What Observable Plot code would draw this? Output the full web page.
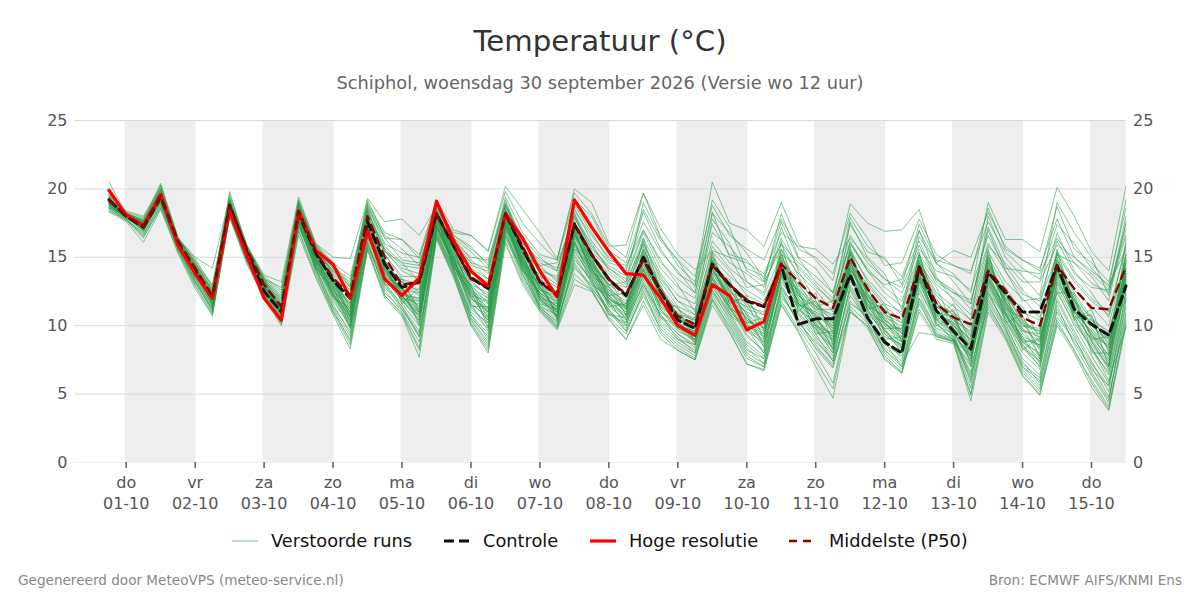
<!DOCTYPE html>
<html lang="nl"><head><meta charset="utf-8">
<script src="https://cdn.jsdelivr.net/npm/d3@7"></script>
<script src="https://cdn.jsdelivr.net/npm/@observablehq/plot@0.6"></script>
<style>
html,body{margin:0;padding:0;background:#fff;font-family:"DejaVu Sans",sans-serif;width:1200px;height:600px;overflow:hidden}
#title{position:absolute;left:0;width:1200px;top:24px;text-align:center;font-size:29.2px;color:#333;line-height:34px}
#subtitle{position:absolute;left:0;width:1200px;top:73px;text-align:center;font-size:17.8px;color:#666;line-height:20px}
#chart{position:absolute;left:0;top:100px}
#legend{position:absolute;left:232px;top:530px;height:22px;font-size:17.8px;color:#111;white-space:nowrap}
#legend span{position:absolute;top:0;line-height:22px}
#legend svg{position:absolute;top:0}
#foot-l{position:absolute;left:18px;top:572px;font-size:13.6px;color:#888}
#foot-r{position:absolute;right:18px;top:572px;font-size:13.6px;color:#888}
</style></head><body>
<div id="title">Temperatuur (°C)</div>
<div id="subtitle">Schiphol, woensdag 30 september 2026 (Versie wo 12 uur)</div>
<div id="chart"></div>
<div id="legend"></div>
<div id="foot-l">Gegenereerd door MeteoVPS (meteo-service.nl)</div>
<div id="foot-r">Bron: ECMWF AIFS/KNMI Ens</div>
<script>
const dayNames=["do","vr","za","zo","ma","di","wo","do","vr","za","zo","ma","di","wo","do"];
const dateNames=["01-10","02-10","03-10","04-10","05-10","06-10","07-10","08-10","09-10","10-10","11-10","12-10","13-10","14-10","15-10"];
const shadedDayIndex=[0,2,4,6,8,10,12,14];
const yTicks=[5,10,15,20,25];
const yLabels=[0,5,10,15,20,25];
const hres=[19.9,18.1,17.3,19.6,15.9,13.8,12.0,18.4,15.1,12.0,10.4,18.4,15.5,14.5,12.0,16.9,13.4,12.2,13.5,19.1,16.2,14.0,12.9,18.2,16.4,14.0,12.1,19.2,17.2,15.4,13.8,13.7,12.0,10.0,9.3,13.0,12.2,9.7,10.3,14.5];
const control=[19.2,18.0,17.2,19.4,16.0,14.0,12.0,18.8,15.4,12.5,11.0,18.2,15.3,13.3,12.0,17.6,14.5,12.8,13.2,18.2,15.8,13.5,12.7,18.2,15.6,13.2,12.3,17.4,15.2,13.4,12.2,15.0,12.5,10.4,9.8,14.5,13.0,11.8,11.4,14.4,10.1,10.5,10.5,13.7,10.6,8.8,8.0,14.3,11.1,9.6,8.3,13.9,12.4,11.0,11.0,14.4,11.2,10.1,9.3,12.9];
const p50=[19.2,18.0,17.3,19.5,16.2,14.2,12.2,18.8,15.6,13.0,11.4,18.4,15.4,13.5,12.2,18.0,15.0,13.0,13.2,18.2,15.8,13.4,12.8,18.2,15.8,13.2,12.2,17.5,15.2,13.4,12.3,14.8,12.5,10.7,10.1,14.4,13.0,11.9,11.4,14.5,13.2,12.0,11.3,15.0,12.7,11.0,10.5,14.3,11.6,10.6,10.1,14.0,12.6,10.6,10.0,14.4,12.7,11.3,11.2,14.3];
const m01=[20.5,18.2,17.8,20.4,16.5,14.6,12.9,19.0,15.9,13.4,12.1,19.0,15.9,14.5,13.0,19.3,17.6,17.8,16.6,18.7,16.8,16.6,15.5,20.2,18.5,16.8,14.9,19.7,18.2,15.8,15.9,19.7,17.1,15.2,14.1,15.5,15.0,14.6,13.8,16.8,15.8,15.6,14.5,16.4,14.9,13.4,12.8,15.9,13.2,12.4,11.9,16.0,14.0,12.3,11.8,15.2,14.6,13.1,12.4,16.6];
const m02=[18.3,17.6,16.1,18.5,15.3,12.7,10.7,17.9,14.5,12.0,10.0,16.6,13.5,10.8,8.3,15.5,12.0,10.7,7.7,16.3,13.5,10.0,8.0,16.0,13.0,11.0,9.7,13.0,12.5,10.5,9.0,11.5,9.0,8.2,7.5,11.5,9.5,7.2,6.7,11.5,9.5,7.0,4.7,11.0,10.0,7.5,6.5,11.0,9.0,8.7,4.5,11.0,9.0,6.3,4.9,10.0,8.0,5.5,3.8,10.0];
const m03=[19.0,18.4,18.0,20.2,16.4,15.0,14.2,19.4,15.8,13.7,13.2,19.4,16.0,15.0,14.9,19.2,16.4,16.3,15.2,19.2,17.0,16.6,15.4,19.8,17.5,16.0,14.8,20.0,19.0,16.0,15.0,19.7,16.5,14.4,13.2,20.5,17.5,17.0,15.8,19.0,16.0,14.8,13.3,18.9,17.5,16.9,17.0,18.5,14.5,13.8,12.4,19.0,16.3,16.3,15.4,20.1,18.0,15.4,14.0,20.2];
const m04=[18.6,17.8,16.6,18.9,15.6,13.2,11.1,18.1,14.8,12.2,10.4,17.2,14.2,11.6,9.4,16.1,12.6,11.0,8.8,16.8,14.0,10.6,9.2,17.0,13.8,11.2,10.0,15.0,13.2,10.8,10.2,13.0,10.4,9.2,8.0,12.4,10.6,8.4,7.2,12.8,10.4,8.3,6.9,12.2,10.4,8.8,7.0,12.4,9.6,9.0,5.4,12.0,9.8,7.0,6.0,11.5,8.6,6.4,4.4,11.8];
const m05=[19.6,18.2,17.5,19.9,16.3,14.5,12.6,19.2,15.8,13.3,11.9,18.9,15.5,14.0,13.2,18.9,16.0,15.3,15.0,18.8,16.2,15.0,14.8,18.9,16.4,15.0,14.0,18.6,16.2,14.6,14.2,17.6,15.4,14.0,12.4,18.2,16.8,15.3,13.4,17.6,14.9,13.2,12.0,17.9,15.8,14.8,13.6,16.9,14.6,15.5,15.0,18.3,15.8,14.8,14.2,17.8,15.0,13.8,12.6,17.4];
const m06=[18.8,18.0,16.9,19.2,15.9,13.6,11.5,18.4,15.1,12.6,10.8,17.8,14.6,12.2,10.2,16.8,13.4,11.8,10.4,17.2,14.6,11.2,10.2,17.4,14.4,12.0,10.8,16.0,14.0,11.8,10.8,13.8,11.2,9.8,8.8,13.2,11.4,9.2,8.2,13.4,11.2,9.8,8.0,13.6,11.0,9.4,8.2,13.2,10.2,9.0,6.6,12.8,10.4,8.0,6.8,12.6,10.0,7.8,5.8,13.4];
const m07=[19.3,18.1,17.6,19.7,16.1,14.2,12.4,18.9,15.6,13.2,11.8,18.6,15.7,13.8,12.6,18.3,15.6,14.4,14.2,18.5,16.4,14.8,13.8,18.6,15.2,14.4,14.6,17.8,16.0,14.0,13.0,16.4,13.8,12.2,11.6,16.2,14.6,13.8,12.8,16.4,14.2,12.8,11.8,16.0,14.2,12.8,11.8,15.2,13.4,12.6,11.2,15.8,14.6,13.2,13.2,15.9,15.0,14.0,13.0,15.6];
const m08=[18.9,17.9,17.1,19.3,15.7,13.4,11.2,18.2,15.0,12.4,10.6,17.5,14.0,11.0,9.0,15.8,12.8,11.4,9.6,16.6,13.8,10.4,8.6,16.4,14.0,11.6,10.4,14.6,12.8,11.0,9.6,12.2,9.8,8.6,7.8,11.9,10.0,7.8,7.0,12.0,10.6,9.0,7.4,11.6,10.8,8.0,6.8,11.8,9.2,8.9,7.0,11.4,9.4,6.8,5.4,10.6,9.0,7.0,4.8,10.8];
const m09=[19.4,18.0,17.4,19.6,16.2,14.4,12.2,18.7,15.4,12.8,11.2,18.2,15.2,13.2,11.4,17.2,14.0,12.0,11.2,17.6,15.0,12.4,11.6,17.8,15.0,12.4,11.4,16.8,14.4,12.4,11.4,14.4,12.4,10.6,9.8,14.0,12.4,10.4,9.8,14.2,12.4,10.4,9.2,14.4,12.0,10.4,9.6,13.8,11.0,10.0,8.4,13.4,11.2,9.2,8.6,13.8,11.6,9.2,7.6,14.8];
const m10=[19.1,18.2,17.7,19.8,16.3,14.8,13.0,19.1,15.7,13.4,12.2,18.7,15.8,14.2,12.9,18.6,16.4,14.8,14.6,18.4,16.0,14.4,14.0,18.9,15.8,14.0,13.6,18.0,15.6,14.4,13.6,17.0,14.6,13.4,12.4,17.4,15.2,14.8,13.2,15.6,13.8,12.6,11.0,15.4,13.4,12.0,10.8,16.5,14.6,13.2,11.6,17.2,14.4,12.6,11.4,16.8,14.0,12.4,10.6,16.0];
const m11=[18.5,17.7,16.4,18.7,15.5,13.0,10.9,18.0,14.7,12.2,10.2,17.0,13.8,11.2,8.8,15.7,12.2,10.9,8.4,16.5,13.6,10.2,8.4,16.6,13.4,11.2,9.9,13.8,12.6,10.6,9.4,12.6,9.6,8.4,7.6,12.0,9.8,7.6,7.0,11.8,9.8,8.0,5.8,11.4,10.2,7.8,6.6,11.6,9.4,8.8,5.0,11.6,9.2,6.6,5.2,10.4,8.2,6.0,4.1,10.4];
const m12=[19.5,18.3,17.9,20.0,16.4,14.9,12.8,19.6,15.9,13.6,12.6,19.2,16.0,14.6,13.6,19.0,16.8,16.3,14.9,19.0,16.6,15.6,14.6,19.4,16.8,15.2,14.8,19.2,18.0,15.5,14.6,18.5,16.2,14.8,13.6,18.8,16.6,15.6,14.8,17.8,15.6,15.0,13.8,18.2,16.4,14.4,14.6,17.8,15.2,14.4,13.8,18.6,15.6,14.8,14.0,18.7,15.6,14.6,13.2,18.6];
const m13=[18.7,17.9,17.0,19.1,15.8,13.5,11.4,18.3,15.2,12.5,10.7,17.6,14.4,12.0,9.8,16.4,13.0,11.6,10.0,17.0,14.2,11.0,9.8,17.2,14.2,11.8,10.6,15.4,13.6,11.4,10.4,13.4,10.8,9.4,8.4,12.8,11.0,8.8,7.8,12.8,11.0,9.4,7.4,13.0,10.6,9.0,7.6,12.8,10.0,9.4,6.0,12.4,10.0,7.6,6.4,12.0,9.6,7.4,5.2,12.6];
const m14=[19.2,18.0,17.2,19.5,16.0,14.0,12.0,18.5,15.3,12.7,11.0,18.0,15.0,12.8,10.8,17.0,13.8,11.9,11.0,17.4,14.8,12.0,11.0,17.6,14.8,12.2,11.0,16.4,14.2,12.2,11.0,14.2,12.0,10.2,9.2,13.8,12.0,10.0,9.4,13.8,12.0,10.2,8.8,14.2,11.8,10.2,9.0,13.6,11.2,9.8,8.0,13.2,11.0,8.8,8.0,13.2,11.2,8.8,7.0,14.4];
const m15=[19.0,18.1,17.5,19.6,16.1,14.3,12.3,18.8,15.5,13.1,11.5,18.4,15.6,13.7,12.4,18.2,15.2,13.6,13.6,18.0,15.6,13.8,13.2,18.3,15.4,13.6,12.8,17.6,15.0,13.2,12.8,15.6,13.2,11.4,10.8,15.0,13.6,12.6,11.8,14.8,13.4,11.6,10.6,14.8,13.0,11.4,10.4,14.6,12.2,11.0,9.8,14.6,12.4,10.2,9.6,14.8,12.6,11.4,10.0,15.2];
const m16=[19.8,18.2,17.6,20.1,16.4,14.6,12.7,19.3,15.8,13.5,12.4,19.0,15.8,14.4,12.8,18.8,16.6,15.6,14.4,18.6,16.4,15.4,14.2,19.2,16.0,14.8,14.2,18.4,16.6,15.0,14.0,18.3,15.6,13.8,13.0,19.2,17.2,14.0,13.2,18.2,15.0,14.2,12.4,17.4,15.4,15.0,13.0,17.4,14.8,14.4,14.0,17.6,15.4,14.2,13.4,17.4,16.0,14.2,12.8,19.2];
const m17=[18.4,17.7,16.8,19.0,15.6,13.3,11.0,18.0,14.8,12.3,10.3,17.4,14.2,11.4,9.6,16.2,12.4,11.2,9.2,16.7,14.2,10.8,9.4,16.8,13.6,11.4,10.2,14.2,13.0,11.2,9.8,12.8,10.2,9.0,8.2,12.6,10.4,8.2,7.6,12.4,10.2,8.8,7.6,12.6,10.2,8.4,7.4,12.0,9.8,9.2,5.8,12.2,10.2,7.4,5.8,11.0,8.8,6.8,5.6,11.4];
const m18=[19.3,18.1,17.3,19.4,16.2,14.1,12.1,18.6,15.4,12.9,11.1,18.3,15.3,13.0,11.0,17.4,14.2,12.4,11.8,17.8,15.2,12.8,12.0,17.9,15.2,12.6,11.6,16.6,14.6,12.6,11.8,14.6,12.2,10.8,10.0,14.2,12.2,11.0,10.4,13.6,11.6,10.8,9.8,13.8,11.4,9.8,9.8,13.4,10.8,10.2,9.0,13.6,11.4,9.6,9.2,13.4,11.0,9.6,8.4,13.8];
const m19=[18.9,18.0,17.0,19.3,15.8,13.7,11.8,18.5,15.2,12.7,10.9,17.9,14.8,12.4,10.4,16.6,13.6,12.2,10.8,17.3,14.4,11.6,10.6,17.5,14.6,12.0,10.6,15.8,13.8,11.6,10.6,13.6,11.6,10.0,9.0,13.4,11.6,9.6,8.8,13.2,11.4,9.6,8.4,13.4,11.2,9.6,8.4,13.0,10.6,9.6,7.4,13.0,10.6,8.4,7.4,12.8,10.4,8.4,6.4,12.2];
const m20=[19.4,18.2,17.7,19.9,16.3,14.7,12.5,19.0,15.7,13.3,11.7,18.8,15.9,14.2,12.2,18.7,15.8,14.6,14.4,18.3,15.9,14.6,14.2,18.8,16.2,14.4,13.2,18.2,15.8,14.2,13.4,16.8,14.2,12.8,12.0,16.8,15.8,14.2,13.6,16.0,14.6,13.6,12.4,16.6,14.6,13.4,12.4,15.6,14.0,13.6,12.6,16.6,14.2,14.0,13.8,16.4,14.6,13.6,11.8,17.6];
const m21=[18.6,17.8,16.7,18.8,15.7,13.1,11.3,18.1,15.0,12.4,10.5,17.3,14.5,11.8,10.0,16.0,13.2,11.4,9.2,16.9,14.0,10.8,9.0,16.9,13.8,11.4,10.0,14.8,13.4,11.0,10.0,13.2,10.6,9.4,8.6,12.6,10.8,8.6,7.6,13.0,10.8,9.2,7.8,12.8,10.4,8.6,7.8,12.6,10.4,9.2,6.4,12.6,9.8,7.2,6.2,11.8,9.4,7.2,5.6,12.0];
const m22=[19.1,18.0,17.4,19.4,16.0,14.1,11.9,18.7,15.5,13.0,11.3,18.1,15.1,13.1,11.7,17.8,14.8,13.0,12.6,18.0,15.5,13.0,12.4,18.0,15.6,13.0,12.0,17.2,14.8,13.0,12.0,15.2,12.8,11.2,10.4,14.6,13.2,11.4,11.0,15.0,13.0,11.4,10.8,14.6,12.4,10.8,10.2,14.0,11.8,10.8,9.4,14.2,12.0,10.0,9.8,14.0,12.2,10.4,9.6,14.0];
const m23=[19.7,18.3,17.5,20.3,16.2,14.4,12.5,19.8,15.6,13.4,12.8,19.1,15.6,14.2,13.4,18.5,15.5,14.0,13.4,18.9,16.6,15.8,14.4,19.0,15.6,13.9,13.0,18.8,16.8,14.8,14.4,17.0,14.8,13.0,11.0,17.8,16.0,13.2,12.4,17.2,14.0,11.8,10.2,17.6,15.0,13.8,11.2,17.0,13.6,11.8,10.4,18.0,15.0,13.6,12.2,19.0,16.8,15.0,12.2,18.0];
const m24=[18.8,17.9,16.9,19.2,15.9,13.8,11.6,18.4,15.3,12.6,11.0,17.7,14.7,12.6,10.6,16.6,14.4,12.4,12.0,17.2,14.6,11.4,10.0,17.2,14.8,11.9,11.2,15.6,13.4,10.8,10.6,13.0,10.8,9.0,8.6,13.0,11.4,9.4,8.0,12.6,10.0,8.4,7.2,11.0,10.0,8.2,7.2,9.5,9.3,8.9,7.8,12.4,10.8,8.6,7.0,12.4,10.2,8.4,6.0,9.9];
const m25=[19.2,18.1,17.6,19.5,16.2,14.3,12.3,18.9,15.6,13.1,11.6,18.5,15.4,13.6,12.0,18.1,15.2,13.4,13.0,18.4,15.7,13.6,13.0,18.4,16.0,13.4,12.4,17.5,14.6,13.0,13.2,16.0,13.4,11.8,11.2,15.4,14.0,12.2,11.6,14.2,13.0,11.2,11.2,15.6,13.2,11.6,11.0,14.8,12.4,11.4,10.4,15.0,12.8,11.0,10.4,15.2,13.2,11.8,10.8,14.6];
const m26=[18.4,17.8,16.5,18.6,15.4,12.9,10.8,18.0,14.6,12.1,10.1,16.9,13.6,11.0,8.6,15.6,12.2,10.8,8.2,16.4,13.7,10.1,8.2,16.2,13.2,11.1,9.8,13.4,12.6,10.4,9.0,11.8,9.4,8.2,7.5,11.8,9.6,7.2,6.8,11.6,9.6,7.4,5.4,11.2,9.8,7.6,6.6,11.2,9.2,8.8,4.9,11.2,9.2,6.4,5.0,10.2,8.2,5.8,3.9,10.2];
const m27=[19.0,18.1,17.2,19.5,16.1,14.0,12.2,18.6,15.4,12.8,11.3,18.2,15.2,13.4,11.2,17.6,14.6,13.2,12.2,17.8,15.4,12.6,11.8,17.8,15.4,12.8,11.8,17.0,14.8,12.8,11.6,15.4,12.8,10.8,10.4,14.8,12.6,11.2,10.8,14.6,12.8,11.0,10.2,15.2,12.2,10.6,10.0,14.2,11.4,10.6,9.2,14.4,12.2,10.4,9.4,14.6,12.0,10.0,9.0,13.2];
const m28=[19.6,18.2,17.7,20.0,16.4,14.5,12.6,19.2,15.7,13.3,12.0,18.9,15.6,14.0,12.8,18.4,15.4,14.2,13.8,18.6,16.2,14.6,13.4,18.7,16.2,14.6,14.0,18.2,15.4,14.2,13.2,19.0,16.4,14.8,12.8,18.3,15.0,12.8,13.0,16.0,13.6,11.4,11.8,16.2,14.0,13.0,13.4,16.2,13.4,12.4,11.6,17.0,14.0,11.8,12.0,16.2,13.8,12.8,12.6,17.0];
const m29=[18.6,17.9,17.0,19.1,15.7,13.4,11.2,18.2,15.1,12.3,10.6,17.5,14.1,11.3,9.2,15.9,13.0,11.2,9.4,16.6,13.9,10.5,8.8,16.6,14.2,11.3,10.3,14.4,12.7,11.2,9.6,12.4,10.0,8.8,8.0,12.2,10.2,8.0,7.2,12.2,10.4,8.6,7.0,11.8,10.6,8.2,7.0,12.0,9.4,9.0,6.2,11.8,9.6,7.0,5.6,11.2,9.2,6.6,4.6,11.0];
const m30=[19.3,18.0,17.3,19.7,16.0,14.2,12.0,18.7,15.5,13.0,11.2,18.3,15.4,13.2,11.6,17.9,14.4,12.6,12.4,18.1,15.3,13.2,12.2,18.1,15.5,13.0,11.6,17.3,15.0,13.4,12.2,14.8,12.6,10.4,10.0,14.4,12.8,11.6,10.8,14.0,12.2,11.2,10.0,14.6,12.6,11.2,10.2,13.8,11.4,10.4,9.6,14.0,11.8,9.8,8.8,14.2,11.8,10.0,8.8,14.0];
const m31=[18.8,18.0,17.1,19.3,15.9,13.9,11.7,18.5,15.3,12.8,10.9,17.8,14.9,12.4,10.0,16.9,14.2,12.2,10.6,17.4,14.8,11.8,10.4,17.7,14.6,12.2,11.2,16.2,14.0,12.0,11.2,14.0,11.8,10.2,9.4,13.6,11.8,10.6,9.2,13.8,11.8,10.0,8.6,13.8,11.6,10.0,8.8,13.4,10.8,9.4,7.8,13.0,10.8,8.8,7.6,13.6,10.8,9.0,7.2,13.0];
const m32=[19.5,18.1,17.6,19.8,16.3,14.4,12.4,19.0,15.7,13.2,11.6,18.6,15.6,13.9,12.6,18.4,15.4,14.6,13.2,18.3,16.0,14.2,13.4,18.5,16.2,14.2,13.4,18.0,15.2,13.8,12.8,16.0,13.6,11.8,10.8,15.8,14.2,13.2,12.2,15.2,14.4,13.0,11.6,16.0,14.0,12.4,11.4,15.0,13.0,12.0,10.8,15.4,13.2,12.0,10.6,15.4,13.4,12.0,11.0,15.8];
const m33=[19.0,18.0,17.2,19.2,15.8,13.9,11.4,18.6,14.9,12.9,10.8,17.6,14.0,12.9,9.8,17.4,13.0,12.8,10.2,18.4,14.2,13.0,9.8,17.8,14.0,13.2,10.6,16.4,15.0,12.2,12.4,16.2,11.6,11.4,8.6,15.4,12.0,11.8,9.0,16.2,11.0,12.4,8.6,15.8,11.2,11.6,8.8,15.4,10.4,11.2,7.0,15.6,10.2,10.8,7.6,15.4,10.6,10.8,7.0,16.4];
const m34=[18.9,18.1,17.0,19.4,16.1,13.8,12.1,18.4,15.6,12.6,11.4,18.2,14.6,13.6,10.6,17.8,14.6,11.6,12.8,17.6,15.6,12.2,11.8,18.4,14.8,12.6,12.0,17.0,13.8,13.4,11.2,15.2,13.0,9.8,10.6,13.8,13.4,10.2,10.6,15.4,11.4,11.8,9.4,14.8,11.4,10.8,9.4,14.6,12.8,10.0,9.0,14.8,11.6,10.4,8.2,15.0,11.8,10.6,8.6,13.6];
const m35=[19.1,17.9,17.4,19.0,16.0,14.1,11.6,19.0,15.2,13.0,10.9,18.0,15.0,12.0,11.3,16.4,14.0,12.6,11.4,17.9,14.6,12.8,10.8,17.0,15.4,11.8,11.0,15.6,14.4,11.4,11.6,14.0,11.4,10.4,9.0,13.4,11.2,10.8,8.4,13.6,12.6,9.4,9.6,13.2,12.0,9.0,9.2,14.0,10.0,10.6,7.6,13.8,12.6,8.2,9.2,12.4,12.4,8.0,8.0,12.4];
const m36=[19.3,18.2,17.1,19.6,15.7,14.4,11.8,18.5,15.0,13.4,10.9,18.6,14.2,13.4,10.2,17.0,13.2,13.4,11.0,17.2,15.0,11.4,11.4,17.4,14.4,13.8,10.4,17.2,13.6,12.8,10.8,15.0,11.8,11.0,9.4,15.2,11.6,12.2,9.6,14.4,12.0,10.6,9.0,14.6,12.8,10.4,8.4,14.8,10.6,11.6,8.6,14.2,12.0,11.4,9.0,14.2,10.4,11.2,8.0,15.4];
const m37=[18.7,18.0,17.3,19.3,16.2,13.6,12.0,18.2,15.4,12.4,11.1,17.7,15.2,12.2,10.8,16.8,13.6,12.8,10.0,18.2,14.0,12.6,10.6,17.6,15.0,12.8,10.9,16.0,14.6,12.0,11.0,14.6,12.2,10.0,9.6,14.2,11.8,11.0,8.6,14.0,11.8,10.8,8.2,14.0,13.0,9.4,8.6,13.2,11.8,9.0,8.2,13.4,11.4,9.0,8.6,13.6,11.4,9.4,7.4,13.2];
const m38=[19.2,18.1,17.5,19.6,15.9,14.2,12.2,18.6,15.2,13.2,11.3,18.3,14.8,13.0,11.2,18.0,14.4,12.0,11.6,17.6,15.2,12.8,11.2,18.0,14.2,12.4,11.4,16.9,14.0,12.6,10.8,15.8,12.4,11.2,10.2,14.8,12.6,10.8,9.8,15.6,12.6,11.4,9.8,15.2,11.8,11.2,9.6,15.0,11.6,10.4,8.8,15.0,11.8,9.6,9.4,15.6,11.4,9.8,8.4,14.6];
const m39=[18.8,17.9,17.2,19.4,15.8,14.0,11.9,18.8,14.9,12.6,10.9,17.9,14.4,12.6,10.4,17.2,14.2,11.8,10.8,17.4,14.4,12.4,10.2,17.4,14.4,11.4,10.8,16.2,13.0,12.2,10.4,14.8,11.2,9.6,9.0,14.6,11.2,9.8,9.0,14.8,11.6,10.4,9.0,14.2,12.0,9.6,8.8,14.4,11.0,10.2,7.8,14.0,11.0,9.0,7.8,14.6,11.0,9.6,7.8,14.2];
const m40=[19.0,18.2,17.4,19.5,16.0,13.8,12.3,18.4,15.5,12.9,11.0,18.1,15.0,12.6,11.0,17.5,13.8,13.2,11.2,17.7,14.8,12.2,11.0,18.2,15.2,12.0,11.6,16.6,14.8,11.8,11.4,15.4,12.0,10.6,9.4,14.0,12.2,10.2,10.2,15.0,12.4,10.0,9.4,15.4,12.4,10.0,9.8,14.4,11.2,10.0,8.6,15.2,11.2,10.6,8.8,14.0,12.0,9.0,9.2,15.0];
const m41=[19.4,18.0,17.3,19.4,16.1,14.0,11.7,18.7,15.3,12.8,11.2,17.8,14.8,13.2,10.9,17.9,14.8,12.2,12.0,17.9,14.2,13.0,11.6,17.8,15.0,12.8,11.2,16.8,14.2,12.4,11.6,14.4,11.8,10.6,9.9,14.2,12.0,11.4,9.8,14.6,11.6,11.0,9.6,14.6,11.6,10.6,9.0,14.2,12.0,9.8,8.4,14.4,11.6,9.4,8.4,14.8,11.6,10.2,8.2,13.8];
const m42=[18.6,18.1,17.1,19.1,15.9,13.7,11.5,18.3,15.1,12.7,10.7,17.6,14.3,12.2,9.9,16.6,13.4,11.9,10.4,17.0,14.7,11.6,9.6,17.2,14.0,12.4,10.6,15.2,13.2,11.8,10.0,13.8,10.6,10.0,8.8,13.0,10.8,9.8,8.0,13.8,10.8,9.8,8.0,14.0,10.8,9.8,8.0,13.4,10.2,8.9,7.2,13.4,10.4,8.4,7.0,13.2,10.6,8.2,6.6,13.0];
const m43=[19.1,18.0,17.5,19.3,16.0,14.3,12.0,18.9,15.4,13.1,11.4,18.4,15.0,13.4,11.4,18.1,14.2,13.4,12.4,18.3,14.9,13.4,12.0,17.9,15.6,12.6,12.2,17.4,14.4,13.0,12.4,15.0,12.8,10.8,10.6,15.0,12.4,12.0,10.0,15.2,12.2,11.4,10.4,15.4,12.2,11.0,9.4,15.2,11.4,11.0,9.2,14.6,12.0,10.0,9.6,14.4,12.4,10.6,9.4,14.2];
const m44=[19.2,17.9,17.2,19.5,15.8,14.1,12.1,18.6,15.5,12.7,11.2,18.1,14.9,12.8,11.6,17.3,14.0,12.4,11.4,18.0,15.0,12.0,11.2,18.1,14.6,12.4,11.8,16.6,14.2,12.2,11.2,16.4,12.6,10.2,9.4,14.8,11.6,10.6,9.4,14.2,12.6,10.6,9.2,14.8,11.0,10.2,9.2,13.6,11.6,10.8,8.0,14.2,11.8,8.8,9.0,13.8,11.8,9.2,8.6,13.4];
const m45=[18.9,18.1,17.4,19.6,16.1,13.9,12.0,18.5,15.3,12.5,10.9,17.9,14.6,12.4,10.6,17.1,13.8,12.6,10.9,17.5,14.5,12.2,10.4,17.7,14.6,11.6,11.2,15.9,13.8,11.6,10.2,14.2,11.4,9.8,9.2,13.6,11.4,10.2,8.8,13.6,11.2,10.2,8.4,14.4,11.2,9.2,8.6,13.8,10.4,9.4,7.4,13.6,10.8,9.2,7.2,14.2,10.6,8.6,7.0,14.8];
const m46=[19.3,18.0,17.3,19.4,16.0,14.2,11.8,18.7,15.2,13.0,11.0,18.2,15.1,12.7,11.0,17.7,14.4,12.0,11.8,18.1,15.1,12.6,11.0,18.3,14.9,12.2,11.4,17.1,14.5,12.9,11.2,15.6,12.2,10.4,9.8,14.4,12.8,10.4,9.6,14.8,12.2,10.8,10.0,14.2,11.9,10.4,9.4,14.6,11.0,10.6,8.4,14.8,11.4,10.2,8.4,14.4,11.0,10.4,9.0,15.2];
const m47=[19.0,17.9,17.5,19.3,15.9,13.7,12.3,18.4,15.4,12.9,11.3,18.0,14.7,13.0,10.7,17.4,14.6,12.8,11.0,17.3,14.8,12.4,11.3,17.5,14.5,12.9,11.0,16.7,14.2,11.9,11.5,15.0,12.6,10.0,9.6,13.8,12.2,10.0,9.2,14.4,11.6,10.0,8.9,13.9,12.2,10.2,8.9,13.6,11.2,9.6,8.2,13.8,11.0,9.8,7.8,14.0,11.2,9.4,7.8,13.6];
const m48=[18.8,18.0,17.0,19.2,16.1,14.0,11.7,18.5,15.1,12.8,10.8,17.7,14.5,12.3,10.3,16.9,13.4,12.3,10.6,17.2,14.3,12.0,10.7,17.3,14.3,12.1,10.7,16.1,13.5,11.7,10.7,14.1,11.0,10.2,8.9,13.5,11.0,9.9,8.5,13.9,11.4,9.9,8.3,13.7,11.5,9.7,8.3,13.5,10.5,9.5,7.6,13.2,10.9,8.6,7.4,13.0,10.9,8.9,6.8,13.8];
const members=[m01,m02,m03,m04,m05,m06,m07,m08,m09,m10,m11,m12,m13,m14,m15,m16,m17,m18,m19,m20,m21,m22,m23,m24,m25,m26,m27,m28,m29,m30,m31,m32,m33,m34,m35,m36,m37,m38,m39,m40,m41,m42,m43,m44,m45,m46,m47,m48];

const HOUR=3600e3;
const t0=Date.UTC(2026,8,30,18);
const dayStart=i=>new Date(Date.UTC(2026,9,1+i));
const domainX=[new Date(Date.UTC(2026,8,30,6)),new Date(Date.UTC(2026,9,15,12))];
const toRows=s=>s.map((v,i)=>({t:new Date(t0+i*6*HOUR),v}));
const memberRows=members.flatMap((s,k)=>toRows(s).map(d=>({...d,k})));
const bandPad=20*60e3;
const bands=shadedDayIndex.map(i=>({a:new Date(+dayStart(i)-bandPad),b:new Date(Math.min(+dayStart(i+1)+bandPad,+domainX[1]))}));
const ticksX=dayNames.map((_,i)=>dayStart(i));

const plot=Plot.plot({
  width:1200,height:420,marginTop:20,marginBottom:58,marginLeft:74,marginRight:74.5,
  style:{fontFamily:'"DejaVu Sans",sans-serif',background:"transparent"},
  x:{type:"utc",domain:domainX},
  y:{domain:[0,25]},
  marks:[
    Plot.rect(bands,{x1:"a",x2:"b",y1:0,y2:25,fill:"#eeeeee"}),
    Plot.ruleY([0],{stroke:"#f2f2f2",strokeWidth:1}),
    Plot.ruleY(yTicks,{stroke:"#d9d9d9",strokeWidth:1}),
    Plot.line(memberRows,{x:"t",y:"v",z:"k",stroke:"#2a9a48",strokeWidth:0.9,strokeOpacity:0.62}),
    Plot.line(toRows(control),{x:"t",y:"v",stroke:"#111",strokeWidth:3,strokeDasharray:"9,5"}),
    Plot.line(toRows(hres),{x:"t",y:"v",stroke:"#ff0000",strokeWidth:3.2}),
    Plot.line(toRows(p50),{x:"t",y:"v",stroke:"#8b0000",strokeWidth:2.4,strokeDasharray:"8,6"}),
    Plot.axisY({anchor:"left",ticks:yLabels,tickSize:0,tickPadding:7,fontSize:16,color:"#555",label:null}),
    Plot.axisY({anchor:"right",ticks:yLabels,tickSize:0,tickPadding:7,fontSize:16,color:"#555",label:null}),
    Plot.axisX({ticks:ticksX,tickSize:6,tickPadding:5,fontSize:16,color:"#555",stroke:"#666",strokeWidth:1.6,label:null,
      tickFormat:d=>{const i=ticksX.findIndex(t=>+t===+d);return dayNames[i]+"\n"+dateNames[i];},lineHeight:1.3})
  ]
});
document.getElementById("chart").append(plot);

const legendItems=[
  {label:"Verstoorde runs",x:0,tx:39,stroke:"#2a9a48",w:1,op:0.6,dash:null},
  {label:"Controle",x:212,tx:251,stroke:"#111",w:3,op:1,dash:"10,5"},
  {label:"Hoge resolutie",x:358,tx:397,stroke:"#ff0000",w:3.2,op:1,dash:null},
  {label:"Middelste (P50)",x:557,tx:597,stroke:"#8b0000",w:2.4,op:1,dash:"8,6"}
];
const legend=document.getElementById("legend");
for(const it of legendItems){
  const s=document.createElementNS("http://www.w3.org/2000/svg","svg");
  s.setAttribute("width",26);s.setAttribute("height",22);s.style.left=it.x+"px";
  const l=document.createElementNS("http://www.w3.org/2000/svg","line");
  l.setAttribute("x1",0);l.setAttribute("x2",26);l.setAttribute("y1",11);l.setAttribute("y2",11);
  l.setAttribute("stroke",it.stroke);l.setAttribute("stroke-width",it.w);l.setAttribute("stroke-opacity",it.op);
  if(it.dash)l.setAttribute("stroke-dasharray",it.dash);
  s.append(l);legend.append(s);
  const t=document.createElement("span");t.textContent=it.label;t.style.left=it.tx+"px";legend.append(t);
}
</script></body></html>
